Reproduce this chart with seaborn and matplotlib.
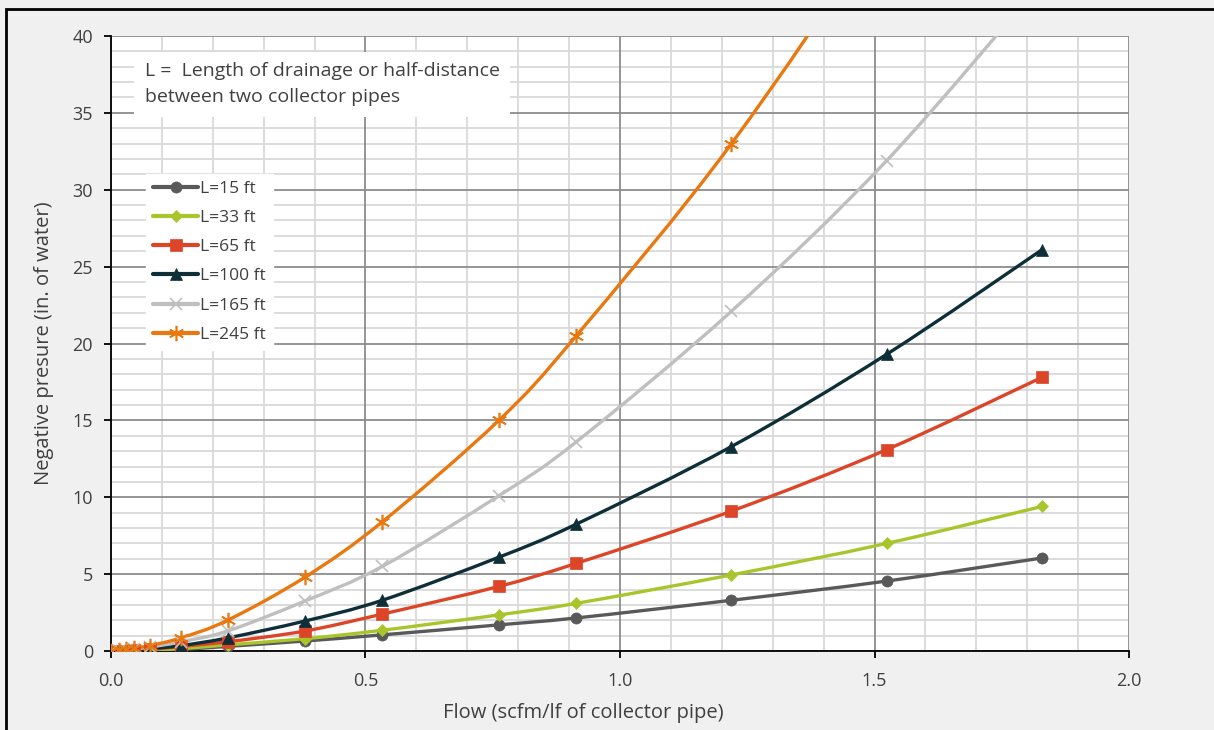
import numpy as np
import pandas as pd
import matplotlib
matplotlib.use("Agg")
import matplotlib.pyplot as plt
import seaborn as sns
from matplotlib.path import Path
from matplotlib.patches import PathPatch, Rectangle
from matplotlib.lines import Line2D
from matplotlib.ticker import MultipleLocator, FormatStrFormatter

# Data
flow = [0.0, 0.015, 0.03, 0.046, 0.076, 0.137, 0.229, 0.381, 0.533, 0.762, 0.914, 1.219, 1.524, 1.829]
p_15 = [0, 0.005, 0.01, 0.02, 0.04, 0.1, 0.3, 0.65, 1.05, 1.7, 2.15, 3.3, 4.55, 6.05]
p_33 = [0, 0.01, 0.02, 0.03, 0.06, 0.15, 0.4, 0.8, 1.35, 2.35, 3.1, 4.95, 7.0, 9.4]
p_65 = [0, 0.01, 0.03, 0.05, 0.1, 0.3, 0.6, 1.3, 2.4, 4.2, 5.7, 9.1, 13.1, 17.8]
p_100 = [0, 0.02, 0.04, 0.07, 0.15, 0.35, 0.85, 1.95, 3.3, 6.1, 8.25, 13.3, 19.3, 26.1]
p_165 = [0, 0.03, 0.07, 0.12, 0.25, 0.6, 1.3, 3.25, 5.5, 10.1, 13.6, 22.1, 31.9, 43.5]
p_245 = [0, 0.05, 0.1, 0.2, 0.35, 0.85, 2.0, 4.8, 8.4, 15.0, 20.5, 33.0, 48.0, 66.0]

labels = ["L=15 ft", "L=33 ft", "L=65 ft", "L=100 ft", "L=165 ft", "L=245 ft"]
series = [p_15, p_33, p_65, p_100, p_165, p_245]
colors = ["#595959", "#a9c52c", "#dc4527", "#0e2e38", "#bfbfbf", "#e8780f"]
markers = ["o", "D", "s", "^", "x", (6, 2, 0)]
msizes = [8, 6, 8, 9, 9, 11]

df = pd.concat([pd.DataFrame({"flow": flow, "pressure": s, "L": lab})
                for s, lab in zip(series, labels)], ignore_index=True)

sns.set_theme(style="white")
plt.rcParams["font.family"] = ["Open Sans", "DejaVu Sans"]

fig = plt.figure(figsize=(12.14, 7.30), dpi=100, facecolor="#f0f0f0")
ax = fig.add_axes([0.0914, 0.1082, 0.8386, 0.8425])
ax.set_facecolor("white")


def smooth_path(x, y):
    # Excel-style smoothed line: cubic Bezier through every data point
    pts = np.column_stack([x, y]).astype(float)
    verts = [pts[0]]
    codes = [Path.MOVETO]
    n = len(pts)
    for i in range(n - 1):
        p0 = pts[max(i - 1, 0)]
        p1 = pts[i]
        p2 = pts[i + 1]
        p3 = pts[min(i + 2, n - 1)]
        c1 = p1 + (p2 - p0) / 6.0
        c2 = p2 - (p3 - p1) / 6.0
        verts += [c1, c2, p2]
        codes += [Path.CURVE4] * 3
    return Path(verts, codes)


handles = []
for lab, col, mk, ms in zip(labels, colors, markers, msizes):
    sub = df[df["L"] == lab]
    patch = PathPatch(smooth_path(sub["flow"], sub["pressure"]), facecolor="none",
                      edgecolor=col, lw=2.4, zorder=3, capstyle="round")
    ax.add_patch(patch)
    mew = 1.2 if mk in ("x", (6, 2, 0)) else 0.5
    sns.lineplot(data=sub, x="flow", y="pressure", ax=ax, color=col, marker=mk,
                 markersize=ms, markeredgecolor=col, markeredgewidth=mew,
                 linestyle="", sort=False, estimator=None, zorder=4, legend=False)
    handles.append(Line2D([0], [0], color=col, lw=3, marker=mk, markersize=ms,
                          markeredgecolor=col, markeredgewidth=mew))

ax.set_xlim(0, 2.0)
ax.set_ylim(0, 40)
ax.xaxis.set_major_locator(MultipleLocator(0.5))
ax.xaxis.set_minor_locator(MultipleLocator(0.1))
ax.yaxis.set_major_locator(MultipleLocator(5))
ax.yaxis.set_minor_locator(MultipleLocator(1))
ax.xaxis.set_major_formatter(FormatStrFormatter("%.1f"))

# light minor grid, then darker major lines drawn on top of it
ax.grid(which="minor", color="#d9d9d9", lw=1.3, zorder=0)
ax.grid(which="major", visible=False)
for xv in ax.get_xticks():
    ax.axvline(xv, color="#8c8c8c", lw=1.3, zorder=1)
for yv in ax.get_yticks():
    ax.axhline(yv, color="#8c8c8c", lw=1.3, zorder=1)
ax.set_axisbelow(True)

for side in ["top", "right"]:
    ax.spines[side].set_visible(False)
for side in ["left", "bottom"]:
    ax.spines[side].set_color("black")
    ax.spines[side].set_linewidth(1.3)
    ax.spines[side].set_zorder(2)

ax.tick_params(which="major", direction="out", length=5, width=1.3, color="black",
               labelsize=13, labelcolor="#404040", left=True, bottom=True)
ax.tick_params(axis="x", which="major", pad=10)
ax.tick_params(axis="y", which="major", pad=8)
ax.tick_params(which="minor", length=0)

ax.set_xlabel("Flow (scfm/lf of collector pipe)", fontsize=14.5, color="#404040")
ax.set_ylabel("Negative presure (in. of water)", fontsize=14.5, color="#404040")
ax.xaxis.set_label_coords(0.4637, -0.085)
ax.yaxis.set_label_coords(-0.056, 0.5)

ax.text(0.033, 0.957, "L =  Length of drainage or half-distance\nbetween two collector pipes",
        transform=ax.transAxes, fontsize=14, color="#404040", va="top", ha="left",
        linespacing=1.55, zorder=5,
        bbox=dict(facecolor="white", edgecolor="none", boxstyle="square,pad=0.55"))

leg = ax.legend(handles, labels, loc="upper left", bbox_to_anchor=(0.026, 0.79),
                frameon=True, fancybox=False, framealpha=1, edgecolor="white",
                fontsize=12.5, labelspacing=0.75, handlelength=2.6, handletextpad=0.1,
                borderpad=0.4)
leg.set_zorder(6)
for t in leg.get_texts():
    t.set_color("#404040")

# outer border of the chart area
fig.patches.append(Rectangle((6 / 1214, -0.05), 1.1, 1 - 9 / 730 + 0.05,
                             transform=fig.transFigure, fill=False,
                             edgecolor="black", lw=2))

fig.savefig("out.png", dpi=100, facecolor=fig.get_facecolor())
